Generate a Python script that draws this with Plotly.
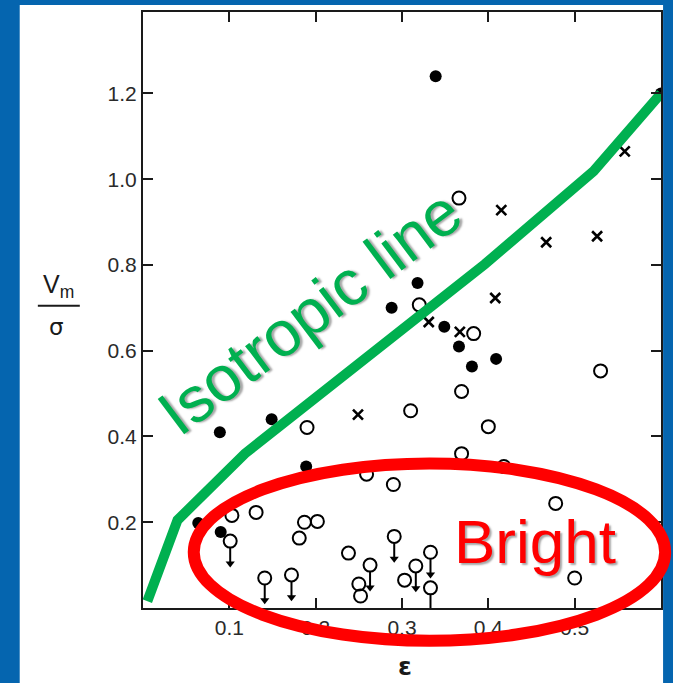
import plotly.graph_objects as go

# ---- data ----
filled_x = [0.339, 0.089, 0.149, 0.189, 0.288, 0.318, 0.349, 0.366, 0.381, 0.409, 0.090, 0.064, 0.600]
filled_y = [1.240, 0.410, 0.440, 0.330, 0.700, 0.758, 0.656, 0.610, 0.563, 0.581, 0.177, 0.198, 1.200]

cross_x = [0.558, 0.415, 0.467, 0.526, 0.408, 0.249, 0.331, 0.367]
cross_y = [1.065, 0.928, 0.853, 0.867, 0.723, 0.451, 0.667, 0.644]

open_x = [0.366, 0.320, 0.383, 0.530, 0.369, 0.310, 0.190, 0.400, 0.369, 0.418, 0.259, 0.290,
          0.478, 0.103, 0.131, 0.187, 0.202, 0.181, 0.238, 0.250, 0.252, 0.303, 0.500]
open_y = [0.956, 0.707, 0.640, 0.553, 0.505, 0.460, 0.421, 0.423, 0.360, 0.330, 0.312, 0.288,
          0.244, 0.216, 0.223, 0.200, 0.202, 0.163, 0.128, 0.056, 0.028, 0.065, 0.070]

limit_x = [0.101, 0.141, 0.172, 0.263, 0.291, 0.316, 0.333, 0.333]
limit_y = [0.156, 0.070, 0.077, 0.100, 0.167, 0.098, 0.130, 0.047]

iso_x = [0.005, 0.040, 0.118, 0.396, 0.522, 0.600]
iso_y = [0.016, 0.205, 0.360, 0.802, 1.019, 1.200]

x_ticks = [0.1, 0.2, 0.3, 0.4, 0.5]
y_ticks = [0.2, 0.4, 0.6, 0.8, 1.0, 1.2]

BLUE = "#0565AF"
GREEN = "#00B050"
RED = "#FF0000"
INK = "#1a1a1a"
ARROW_START = 0.016   # just below the circle
ARROW_LEN = 0.052     # length of the upper-limit arrow (data units)

fig = go.Figure()

fig.add_trace(go.Scatter(x=filled_x, y=filled_y, mode="markers",
                         marker=dict(symbol="circle", size=12, color="black"),
                         showlegend=False, hoverinfo="skip"))
fig.add_trace(go.Scatter(x=cross_x, y=cross_y, mode="markers",
                         marker=dict(symbol="x-thin", size=10, color="black",
                                     line=dict(color="black", width=2.6)),
                         showlegend=False, hoverinfo="skip"))
fig.add_trace(go.Scatter(x=open_x + limit_x, y=open_y + limit_y, mode="markers",
                         marker=dict(symbol="circle-open", size=13, color="black",
                                     line=dict(color="black", width=2)),
                         showlegend=False, hoverinfo="skip"))

# upper-limit arrows: stems + heads
stem_x, stem_y = [], []
for lx, ly in zip(limit_x, limit_y):
    stem_x += [lx, lx, None]
    stem_y += [ly - ARROW_START, ly - ARROW_LEN, None]
fig.add_trace(go.Scatter(x=stem_x, y=stem_y, mode="lines",
                         line=dict(color="black", width=2),
                         showlegend=False, hoverinfo="skip"))
fig.add_trace(go.Scatter(x=limit_x, y=[ly - ARROW_LEN for ly in limit_y], mode="markers",
                         marker=dict(symbol="triangle-down", size=8, color="black"),
                         showlegend=False, hoverinfo="skip"))

fig.add_trace(go.Scatter(x=iso_x, y=iso_y, mode="lines",
                         line=dict(color=GREEN, width=10),
                         showlegend=False, hoverinfo="skip"))

center = dict(xanchor="center", yanchor="middle", showarrow=False, xref="paper", yref="paper")
annotations = [
    dict(x=0.322, y=0.497, text="Isotropic line", textangle=-37,
         font=dict(family="Liberation Sans, Arial", size=64, color=GREEN,
                   shadow="2px 2px 2px rgba(0,0,0,0.35)"), **center),
    dict(x=0.756, y=0.112, text="Bright",
         font=dict(family="Liberation Sans, Arial", size=62, color=RED,
                   shadow="2px 2px 2px rgba(0,0,0,0.35)"), **center),
    dict(x=-0.163, y=0.540, text="V<sub>m</sub>",
         font=dict(family="Liberation Sans, Arial", size=25, color=INK), **center),
    dict(x=-0.167, y=0.472, text="σ",
         font=dict(family="DejaVu Sans", size=23, color=INK), **center),
    dict(x=0.506, y=-0.098, text="<b>ε</b>",
         font=dict(family="DejaVu Sans", size=25, color=INK), **center),
]

shapes = [
    dict(type="rect", xref="paper", yref="paper", x0=-0.238, x1=1.004, y0=-0.2, y1=1.0117,
         fillcolor="white", line=dict(width=0), layer="below"),
    dict(type="line", xref="paper", yref="paper", x0=-0.203, x1=-0.122, y0=0.507, y1=0.507,
         line=dict(color=INK, width=2)),
    dict(type="circle", xref="paper", yref="paper", x0=0.098, x1=1.008, y0=-0.055, y1=0.2425,
         line=dict(color=RED, width=12), fillcolor="rgba(0,0,0,0)", layer="above"),
]

axis_common = dict(showline=True, linecolor=INK, linewidth=2, mirror="ticks", ticks="inside",
                   ticklen=10, tickwidth=1.5, tickcolor=INK, showgrid=False, zeroline=False,
                   tickfont=dict(family="Liberation Sans, Arial", size=21, color="#2a2a2a"))

fig.update_layout(
    width=673, height=683,
    margin=dict(l=143, r=10, t=10, b=75),
    paper_bgcolor=BLUE, plot_bgcolor="white",
    xaxis=dict(range=[0, 0.6], tickvals=x_ticks, tickformat=".1f", **axis_common),
    yaxis=dict(range=[0, 1.39], tickvals=y_ticks, tickformat=".1f", **axis_common),
    annotations=annotations, shapes=shapes,
)

fig.write_html("out.html")
